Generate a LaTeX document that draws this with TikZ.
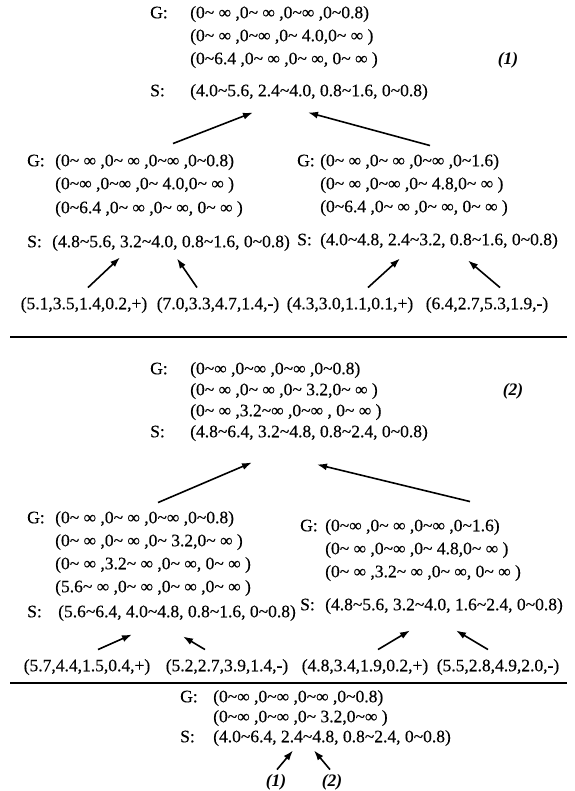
\documentclass[tikz,border=0pt]{standalone}
\usepackage{fontspec}
\setmainfont{Liberation Serif}
\newfontfamily\scanfont{Liberation Serif}[FakeBold=0.3]
\usetikzlibrary{arrows.meta,calc}
\newcommand{\rng}{\textasciitilde}

\begin{document}
\begin{tikzpicture}[x=1pt,y=1pt,>={Latex[length=10pt,width=7pt]},
    txt/.style={anchor=west,inner sep=0pt,text height=12.5pt,text depth=4pt,
                font=\scanfont\fontsize{17.5}{21}\selectfont},
    ctr/.style={txt,anchor=center},
    tag/.style={ctr,font=\fontsize{17.5}{21}\selectfont\bfseries\itshape},
    arr/.style={->,line width=1.6pt},
    rule/.style={line width=1.8pt}]
  \useasboundingbox (0,0) rectangle (574,-791);

  % ---- part (1) ----
  \node[txt] (gA)  at (150,-14) {G:};
  \node[txt] (gA1) at (190,-14) {(0\rng{} ∞ ,0\rng{} ∞ ,0\rng{}∞ ,0\rng{}0.8)};
  \node[txt] (gA2) at (190,-37) {(0\rng{} ∞ ,0\rng{}∞ ,0\rng{} 4.0,0\rng{} ∞ )};
  \node[txt] (gA3) at (190,-60) {(0\rng{}6.4 ,0\rng{} ∞ ,0\rng{} ∞, 0\rng{} ∞ )};
  \node[tag] (t1)  at (508,-60) {(1)};
  \node[txt] (sA)  at (150,-92) {S:};
  \node[txt] (sA1) at (190,-92) {(4.0\rng{}5.6, 2.4\rng{}4.0, 0.8\rng{}1.6, 0\rng{}0.8)};

  \node[txt] (gB)  at (27,-162) {G:};
  \node[txt] (gB1) at (55,-162) {(0\rng{} ∞ ,0\rng{} ∞ ,0\rng{}∞ ,0\rng{}0.8)};
  \node[txt] (gB2) at (55,-185) {(0\rng{}∞ ,0\rng{}∞ ,0\rng{} 4.0,0\rng{} ∞ )};
  \node[txt] (gB3) at (55,-209) {(0\rng{}6.4 ,0\rng{} ∞ ,0\rng{} ∞, 0\rng{} ∞ )};
  \node[txt] (sB)  at (27,-243) {S:};
  \node[txt] (sB1) at (52,-243) {(4.8\rng{}5.6, 3.2\rng{}4.0, 0.8\rng{}1.6, 0\rng{}0.8)};

  \node[txt] (gC)  at (297,-162) {G:};
  \node[txt] (gC1) at (320,-162) {(0\rng{} ∞ ,0\rng{} ∞ ,0\rng{}∞ ,0\rng{}1.6)};
  \node[txt] (gC2) at (320,-185) {(0\rng{} ∞ ,0\rng{}∞ ,0\rng{} 4.8,0\rng{} ∞ )};
  \node[txt] (gC3) at (320,-208) {(0\rng{}6.4 ,0\rng{} ∞ ,0\rng{} ∞, 0\rng{} ∞ )};
  \node[txt] (sC)  at (297,-241) {S:};
  \node[txt] (sC1) at (320,-241) {(4.0\rng{}4.8, 2.4\rng{}3.2, 0.8\rng{}1.6, 0\rng{}0.8)};

  \node[ctr] (l1) at (84,-305)  {(5.1,3.5,1.4,0.2,+)};
  \node[ctr] (l2) at (218,-305) {(7.0,3.3,4.7,1.4,-)};
  \node[ctr] (l3) at (350,-305) {(4.3,3.0,1.1,0.1,+)};
  \node[ctr] (l4) at (487,-305) {(6.4,2.7,5.3,1.9,-)};

  \draw[arr] ([shift={(118,10)}]gB1.north west) -- ([shift={(63,-12)}]sA1.south west);
  \draw[arr] ([shift={(110,8)}]gC1.north west)  -- ([shift={(118,-12)}]sA1.south west);
  \draw[arr] ([shift={(4,9)}]l1.north)   -- ([shift={(68,-6)}]sB1.south west);
  \draw[arr] ([shift={(-21,9)}]l2.north) -- ([shift={(125,-7)}]sB1.south west);
  \draw[arr] ([shift={(18,9)}]l3.north)  -- ([shift={(80,-9)}]sC1.south west);
  \draw[arr] ([shift={(13,9)}]l4.north)  -- ([shift={(148,-11)}]sC1.south west);

  \draw[rule] (10,-337) -- (567,-337);

  % ---- part (2) ----
  \node[txt] (gD)  at (150,-370) {G:};
  \node[txt] (gD1) at (190,-370) {(0\rng{}∞ ,0\rng{}∞ ,0\rng{}∞ ,0\rng{}0.8)};
  \node[txt] (gD2) at (190,-391) {(0\rng{} ∞ ,0\rng{} ∞ ,0\rng{} 3.2,0\rng{} ∞ )};
  \node[txt] (gD3) at (190,-412) {(0\rng{} ∞ ,3.2\rng{}∞ ,0\rng{}∞ , 0\rng{} ∞ )};
  \node[tag] (t2)  at (513,-391) {(2)};
  \node[txt] (sD)  at (150,-433) {S:};
  \node[txt] (sD1) at (190,-433) {(4.8\rng{}6.4, 3.2\rng{}4.8, 0.8\rng{}2.4, 0\rng{}0.8)};

  \node[txt] (gE)  at (27,-519) {G:};
  \node[txt] (gE1) at (55,-519) {(0\rng{} ∞ ,0\rng{} ∞ ,0\rng{}∞ ,0\rng{}0.8)};
  \node[txt] (gE2) at (55,-542) {(0\rng{} ∞ ,0\rng{} ∞ ,0\rng{} 3.2,0\rng{} ∞ )};
  \node[txt] (gE3) at (55,-565) {(0\rng{} ∞ ,3.2\rng{} ∞ ,0\rng{} ∞, 0\rng{} ∞ )};
  \node[txt] (gE4) at (55,-588) {(5.6\rng{} ∞ ,0\rng{} ∞ ,0\rng{} ∞ ,0\rng{} ∞ )};
  \node[txt] (sE)  at (27,-613) {S:};
  \node[txt] (sE1) at (58,-613) {(5.6\rng{}6.4, 4.0\rng{}4.8, 0.8\rng{}1.6, 0\rng{}0.8)};

  \node[txt] (gF)  at (300,-527) {G:};
  \node[txt] (gF1) at (325,-527) {(0\rng{}∞ ,0\rng{} ∞ ,0\rng{}∞ ,0\rng{}1.6)};
  \node[txt] (gF2) at (325,-550) {(0\rng{} ∞ ,0\rng{}∞ ,0\rng{} 4.8,0\rng{} ∞ )};
  \node[txt] (gF3) at (325,-573) {(0\rng{} ∞ ,3.2\rng{} ∞ ,0\rng{} ∞, 0\rng{} ∞ )};
  \node[txt] (sF)  at (300,-606) {S:};
  \node[txt] (sF1) at (325,-606) {(4.8\rng{}5.6, 3.2\rng{}4.0, 1.6\rng{}2.4, 0\rng{}0.8)};

  \node[ctr] (l5) at (87,-667)  {(5.7,4.4,1.5,0.4,+)};
  \node[ctr] (l6) at (227,-667) {(5.2,2.7,3.9,1.4,-)};
  \node[ctr] (l7) at (365,-667) {(4.8,3.4,1.9,0.2,+)};
  \node[ctr] (l8) at (498,-667) {(5.5,2.8,4.9,2.0,-)};

  \draw[arr] ([shift={(103,8)}]gE1.north west)  -- ([shift={(62,-21)}]sD1.south west);
  \draw[arr] ([shift={(145,17)}]gF1.north west) -- ([shift={(127,-23)}]sD1.south west);
  \draw[arr] ([shift={(11,9)}]l5.north)  -- ([shift={(74,-13)}]sE1.south west);
  \draw[arr] ([shift={(-22,9)}]l6.north) -- ([shift={(125,-15)}]sE1.south west);
  \draw[arr] ([shift={(13,9)}]l7.north)  -- ([shift={(85,-16)}]sF1.south west);
  \draw[arr] ([shift={(-10,9)}]l8.north) -- ([shift={(131,-16)}]sF1.south west);

  \draw[rule] (10,-683) -- (567,-683);

  % ---- merge ----
  \node[txt] (gH)  at (180,-698) {G:};
  \node[txt] (gH1) at (213,-698) {(0\rng{}∞ ,0\rng{}∞ ,0\rng{}∞ ,0\rng{}0.8)};
  \node[txt] (gH2) at (213,-718) {(0\rng{}∞ ,0\rng{}∞ ,0\rng{} 3.2,0\rng{}∞ )};
  \node[txt] (sH)  at (180,-738) {S:};
  \node[txt] (sH1) at (213,-738) {(4.0\rng{}6.4, 2.4\rng{}4.8, 0.8\rng{}2.4, 0\rng{}0.8)};
  \node[tag] (n1) at (276,-782) {(1)};
  \node[tag] (n2) at (332,-782) {(2)};

  \draw[arr] ([shift={(1,4)}]n1.north)  -- ([shift={(80,-4)}]sH1.south west);
  \draw[arr] ([shift={(-2,4)}]n2.north) -- ([shift={(101,-4)}]sH1.south west);
\end{tikzpicture}
\end{document}
